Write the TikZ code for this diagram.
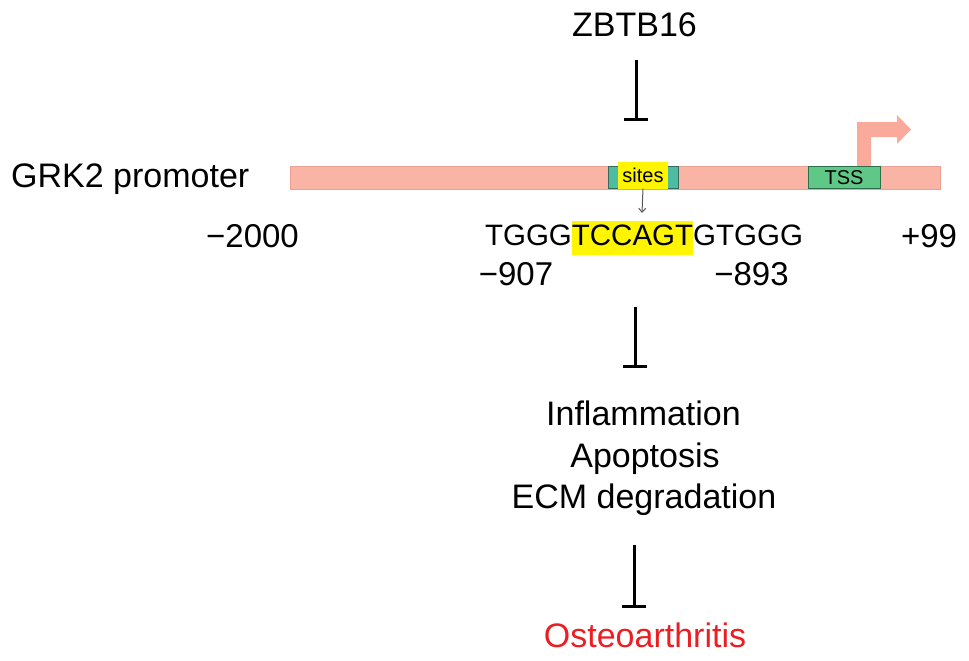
\documentclass[tikz,border=0pt]{standalone}
\usepackage{fontspec}
\setmainfont{Liberation Sans}
\usetikzlibrary{arrows.meta}
\definecolor{barc}{RGB}{250,180,165}
\definecolor{barb}{RGB}{235,160,145}
\definecolor{sitec}{RGB}{78,188,160}
\definecolor{siteb}{RGB}{55,105,90}
\definecolor{tssc}{RGB}{95,200,135}
\definecolor{tssb}{RGB}{45,110,75}
\definecolor{hl}{RGB}{255,245,0}
\definecolor{oared}{RGB}{235,30,35}
\definecolor{arrc}{RGB}{250,170,155}
\tikzset{
  big/.style={font=\fontsize{34}{40}\selectfont, inner sep=0pt, anchor=base},
  num/.style={font=\fontsize{33}{40}\selectfont, inner sep=0pt, anchor=base},
  small/.style={font=\fontsize{20}{24}\selectfont, inner sep=0pt},
  inh/.style={line width=3pt, -{Bar[width=24pt,line width=3pt]}},
  boxx/.style={inner sep=0pt, line width=1pt},
}
\begin{document}
\begin{tikzpicture}[x=1pt,y=-1pt]
\useasboundingbox (0,0) rectangle (969,661);
% promoter bar
\node[boxx, fill=barc, draw=barb, line width=0.6pt, minimum width=650pt, minimum height=23pt] (bar) at (615,177.5) {};
% bent arrow
\fill[arrc] (857,166) -- (857,122) -- (897,122) -- (897,115) -- (911,129.5) -- (897,144) -- (897,137) -- (871,137) -- (871,166) -- cycle;
% sites box
\node[boxx, fill=sitec, draw=siteb, minimum width=70pt, minimum height=22pt] (sitesbox) at (643,177) {};
\node[small, fill=hl, minimum width=50pt, minimum height=27pt] (sites) at (643,175) {sites};
% TSS box
\node[boxx, fill=tssc, draw=tssb, minimum width=72pt, minimum height=22pt] (tss) at (844,177) {};
\node[small] (tsstxt) at (844,177.5) {TSS};
% labels
\node[big] (zbtb) at (634.5,37) {ZBTB16};
\node[big, anchor=base west] (grk) at (11,187) {GRK2 promoter};
\node[num] (m2000) at (252.5,247) {−2000};
\node[num] (p99) at (929,247) {+99};
\node[font=\fontsize{29.5}{34}\selectfont, inner sep=0pt, anchor=base] (seq) at (644,245)
  {TGGG{\fboxsep=0pt\colorbox{hl}{\strut TCCAGT}}GTGGG};
\node[num] (m907) at (516,285) {−907};
\node[num] (m893) at (751.5,285) {−893};
\node[big] (inf) at (643.5,425) {Inflammation};
\node[big] (apo) at (645,467) {Apoptosis};
\node[big] (ecm) at (644,508) {ECM degradation};
\node[big, text=oared] (oa) at (645,647) {Osteoarthritis};
% small arrow
\coordinate (sa) at (642,213);
\draw[gray!70!black, line width=1pt, -{Straight Barb[length=4pt,width=7pt]}] (sites.south) -- (sa);
% inhibitions
\coordinate (i1a) at (636,60); \coordinate (i1b) at (636,121);
\draw[inh] (i1a) -- (i1b);
\coordinate (i2a) at (635,307); \coordinate (i2b) at (635,368);
\draw[inh] (i2a) -- (i2b);
\coordinate (i3a) at (634,545); \coordinate (i3b) at (634,608);
\draw[inh] (i3a) -- (i3b);
\end{tikzpicture}
\end{document}
